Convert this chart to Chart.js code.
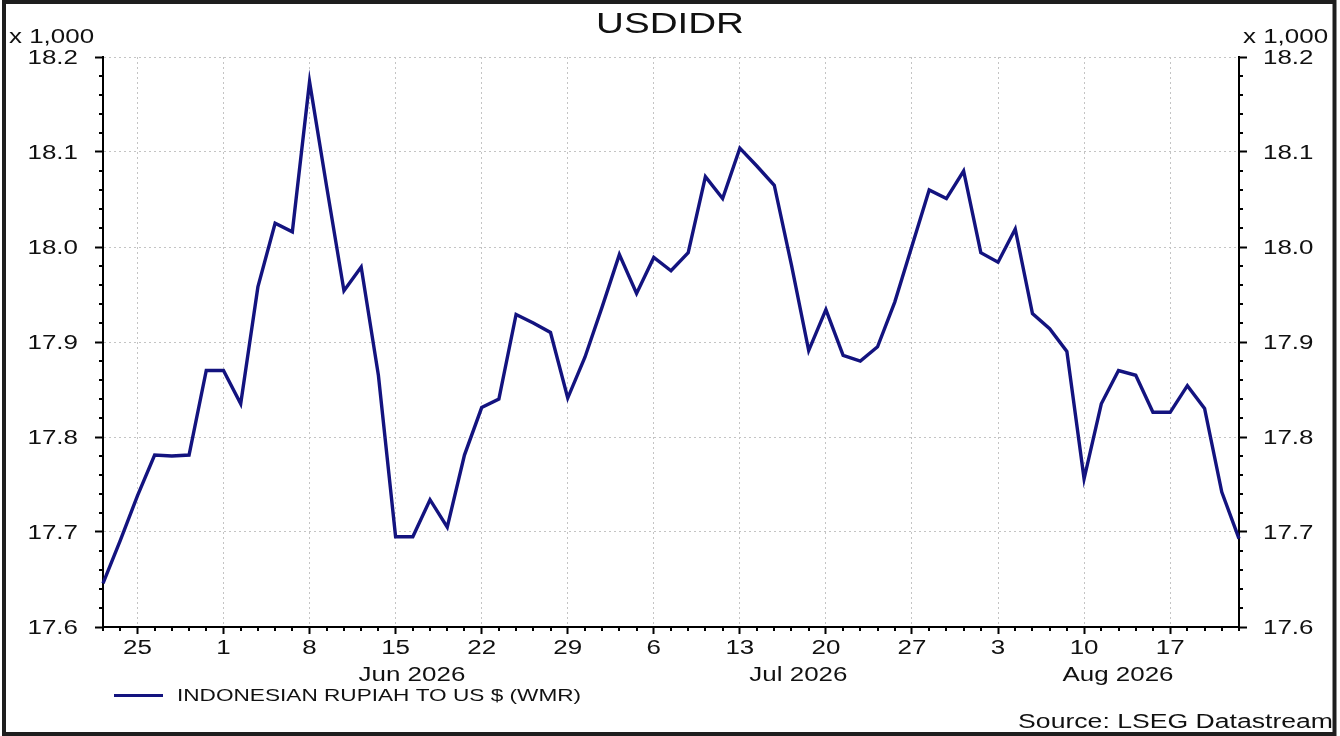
<!DOCTYPE html>
<html>
<head>
<meta charset="utf-8">
<title>USDIDR</title>
<script src="https://cdn.jsdelivr.net/npm/chart.js@4.4.1/dist/chart.umd.min.js"></script>
<style>
    html, body { margin: 0; padding: 0; background: #fff; }
    canvas { display: block; }
</style>
</head>
<body>
<canvas id="usdidrChart" width="1340" height="736"></canvas>
<script>
// USD/IDR, business days Thu 21 May 2026 .. Fri 21 Aug 2026 (index 0..66), in thousands
const rates = [
    17.646, 17.691, 17.738, 17.781, 17.780, 17.781, 17.870, 17.870, 17.835, 17.958,
    18.025, 18.016, 18.174, 18.063, 17.954, 17.979, 17.865, 17.695, 17.695, 17.734,
    17.705, 17.781, 17.831, 17.840, 17.929, 17.920, 17.910, 17.841, 17.884, 17.937,
    17.992, 17.951, 17.989, 17.975, 17.994, 18.074, 18.051, 18.104, 18.085, 18.065,
    17.981, 17.891, 17.934, 17.886, 17.880, 17.895, 17.942, 18.001, 18.060, 18.051,
    18.080, 17.994, 17.984, 18.019, 17.930, 17.914, 17.890, 17.756, 17.835, 17.870,
    17.865, 17.826, 17.826, 17.854, 17.830, 17.742, 17.693
];

// Mondays (business-day index) and their labels
const mondayIndex = [2, 7, 12, 17, 22, 27, 32, 37, 42, 47, 52, 57, 62];
const mondayLabels = ['25', '1', '8', '15', '22', '29', '6', '13', '20', '27', '3', '10', '17'];

// month captions under the day ticks
const monthLabels = ['Jun 2026', 'Jul 2026', 'Aug 2026'];
const monthCenters = [17.95, 40.4, 58.97];

const seriesName = 'INDONESIAN RUPIAH TO US $ (WMR)';
const chartTitle = 'USDIDR';
const unitNote = 'x 1,000';
const sourceNote = 'Source: LSEG Datastream';

const yMin = 17.6;
const yMax = 18.2;
const lastIndex = rates.length - 1;

const FONT = '"Liberation Sans", Arial, sans-serif';
const STRETCH = 1.33;
const TEXT_COLOR = '#111';

// text in the reference is drawn wide, so squash it out horizontally
function wideText(ctx, text, x, yMid, size, align) {
    ctx.save();
    ctx.font = size + 'px ' + FONT;
    ctx.fillStyle = TEXT_COLOR;
    ctx.textBaseline = 'alphabetic';
    ctx.textAlign = 'left';
    const w = ctx.measureText(text).width * STRETCH;
    let left = x;
    if (align === 'center') left = x - w / 2;
    else if (align === 'right') left = x - w;
    ctx.translate(left, yMid + size * 0.358);
    ctx.scale(STRETCH, 1);
    ctx.fillText(text, 0, 0);
    ctx.restore();
}

const decorations = {
    id: 'decorations',
    afterDraw(chart) {
        const ctx = chart.ctx;
        const area = chart.chartArea;
        const x = chart.scales.x;
        const y = chart.scales.y;

        // minor ticks
        ctx.save();
        ctx.strokeStyle = '#000';
        ctx.lineWidth = 2;
        ctx.beginPath();
        for (let k = 1; k < 30; k++) {
            if (k % 5 === 0) continue;
            const py = Math.round(y.getPixelForValue(yMin + k * 0.02));
            ctx.moveTo(area.left - 4, py);
            ctx.lineTo(area.left, py);
            ctx.moveTo(area.right, py);
            ctx.lineTo(area.right + 4, py);
        }
        for (let i = 0; i <= lastIndex; i++) {
            if (mondayIndex.includes(i)) continue;
            const px = Math.round(x.getPixelForValue(i));
            ctx.moveTo(px, area.bottom);
            ctx.lineTo(px, area.bottom + 4);
        }
        ctx.stroke();
        ctx.restore();

        // tick labels from the scales
        y.ticks.forEach(t => {
            const py = y.getPixelForValue(t.value);
            wideText(ctx, t.label, 78, py, 19.5, 'right');
            wideText(ctx, t.label, 1263, py, 19.5, 'left');
        });
        x.ticks.forEach(t => {
            wideText(ctx, t.label, x.getPixelForValue(t.value), 647.5, 19.5, 'center');
        });
        monthLabels.forEach((m, i) => {
            wideText(ctx, m, x.getPixelForValue(monthCenters[i]), 674.5, 19.5, 'center');
        });

        // title, unit notes, legend, source
        wideText(ctx, chartTitle, 670, 22.5, 29, 'center');
        wideText(ctx, unitNote, 9, 36, 19.5, 'left');
        wideText(ctx, unitNote, 1243, 36, 19.5, 'left');

        const ds = chart.data.datasets[0];
        ctx.save();
        ctx.strokeStyle = ds.borderColor;
        ctx.lineWidth = 3;
        ctx.beginPath();
        ctx.moveTo(114, 695.5);
        ctx.lineTo(163, 695.5);
        ctx.stroke();
        ctx.restore();
        wideText(ctx, ds.label, 177, 694.5, 17, 'left');

        wideText(ctx, sourceNote, 1333, 721, 20, 'right');

        // frame
        ctx.save();
        ctx.strokeStyle = '#1e1e1e';
        ctx.lineWidth = 4;
        ctx.strokeRect(4, 2, 1330.5, 732);
        ctx.restore();
    }
};

const whiteBackground = {
    id: 'whiteBackground',
    beforeDraw(chart) {
        const ctx = chart.ctx;
        ctx.save();
        ctx.fillStyle = '#fff';
        ctx.fillRect(0, 0, chart.width, chart.height);
        ctx.restore();
    }
};

const gridColor = ctx => (ctx.tick && Math.abs(ctx.tick.value - yMin) < 1e-6) ? 'rgba(0,0,0,0)' : '#c4c4c4';

new Chart(document.getElementById('usdidrChart'), {
    type: 'line',
    data: {
        datasets: [{
            label: seriesName,
            data: rates.map((v, i) => ({x: i, y: v})),
            borderColor: '#13137f',
            borderWidth: 3.4,
            pointRadius: 0,
            tension: 0,
            clip: 6,
            yAxisID: 'y'
        }]
    },
    options: {
        responsive: false,
        animation: false,
        devicePixelRatio: 1,
        layout: {
            autoPadding: false,
            padding: {top: 57, left: 0, right: 0, bottom: 0}
        },
        plugins: {
            legend: {display: false},
            title: {display: false},
            tooltip: {enabled: false}
        },
        scales: {
            x: {
                type: 'linear',
                min: 0,
                max: lastIndex,
                afterBuildTicks: scale => {
                    scale.ticks = mondayIndex.map(v => ({value: v}));
                },
                afterFit: scale => { scale.height = 109; },
                ticks: {
                    display: false,
                    callback: (value, index) => mondayLabels[index]
                },
                grid: {
                    color: '#c4c4c4',
                    lineWidth: 1,
                    drawTicks: true,
                    tickLength: 7,
                    tickColor: '#000',
                    tickWidth: 2
                },
                border: {display: true, color: '#000', width: 2, dash: [2, 3]}
            },
            y: {
                position: 'left',
                min: yMin,
                max: yMax,
                afterFit: scale => { scale.width = 103; },
                ticks: {
                    display: false,
                    stepSize: 0.1,
                    callback: v => v.toFixed(1)
                },
                grid: {
                    color: gridColor,
                    lineWidth: 1,
                    drawTicks: true,
                    tickLength: 8,
                    tickColor: '#000',
                    tickWidth: 2
                },
                border: {display: true, color: '#000', width: 2, dash: [2, 3]}
            },
            y2: {
                position: 'right',
                min: yMin,
                max: yMax,
                afterFit: scale => { scale.width = 101; },
                ticks: {
                    display: false,
                    stepSize: 0.1,
                    callback: v => v.toFixed(1)
                },
                grid: {
                    drawOnChartArea: false,
                    drawTicks: true,
                    tickLength: 8,
                    tickColor: '#000',
                    tickWidth: 2
                },
                border: {display: true, color: '#000', width: 2}
            }
        }
    },
    plugins: [whiteBackground, decorations]
});
</script>
</body>
</html>
